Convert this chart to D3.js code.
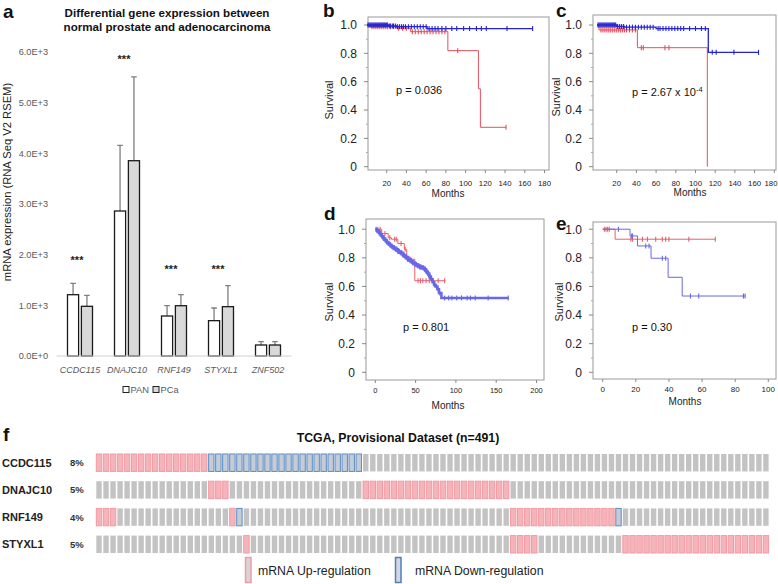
<!DOCTYPE html>
<html><head><meta charset="utf-8">
<script src="https://cdn.jsdelivr.net/npm/d3@7"></script>
<style>body{margin:0;background:#fff}svg{display:block;font-family:"Liberation Sans",Arial,sans-serif}</style>
</head><body><svg id="chart" width="778" height="584"></svg>
<script>
// ---------- Panel a data ----------
const genes = ["CCDC115","DNAJC10","RNF149","STYXL1","ZNF502"];
const groups = ["PAN","PCa"];
const panValues = [1209, 2860, 789, 697, 217];
const panErrors = [225, 1296, 203, 250, 65];
const pcaValues = [980, 3852, 992, 973, 217];
const pcaErrors = [217, 1652, 217, 414, 65];
const sigLevels = [1913, 5878, 1736, 1736, null];
const sigLabel = "***";
const aTickValues = [0, 1000, 2000, 3000, 4000, 5000, 6000];
const aTickLabels = ["0.0E+0","1.0E+3","2.0E+3","3.0E+3","4.0E+3","5.0E+3","6.0E+3"];

// ---------- KM data ----------
const survTicks = [0, 0.2, 0.4, 0.6, 0.8, 1.0];
const survTickLabels = ["0","0.2","0.4","0.6","0.8","1.0"];
const bMonthTicks = [20,40,60,80,100,120,140,160,180];
const bBlueSteps = [[0,1.0],[22,0.993],[30,0.988],[61,0.975]];
const bBlueEnd = 168;
const bBlueCensor = [1,2,3,4,5,6,7,8,9,10,11,12,13,14,15,16,17,18,19,20,21,23,24,26,27,29,31,33,35,37,39,42,45,48,51,54,57,60,63,66,69,72,76,80,86,91,98,104,111,116,121,142,168];
const bRedSteps = [[0,1.0],[3,0.988],[30,0.977],[44,0.953],[82,0.819],[113,0.55],[115,0.278]];
const bRedEnd = 141;
const bRedCensor = [5,7,9,11,13,15,17,19,21,24,27,32,36,40,46,49,52,55,58,61,64,67,70,73,76,79,92,141];

const cMonthTicks = [20,40,60,80,100,120,140,160,180];
const cBlueSteps = [[0,1.0],[20,0.99],[28,0.985],[60,0.975],[113,0.807]];
const cBlueEnd = 164;
const cBlueCensor = [1,2,3,4,5,6,7,8,9,10,11,12,13,14,15,16,17,18,19,21,23,25,27,30,33,36,39,42,45,48,51,54,57,62,64,67,70,73,76,79,82,85,88,94,100,106,110,117,121,139,164];
const cRedSteps = [[0,1.0],[2,0.965],[41,0.84],[112,0.0]];
const cRedEnd = 112;
const cRedCensor = [4,6,8,10,12,14,16,18,20,22,24,26,28,30,33,36,39,45,47,69,73];

const dMonthTicks = [0,50,100,150,200];
const dBlueSteps = [[0,1.0],[2,0.99],[4,0.98],[6,0.965],[8,0.95],[10,0.935],[12,0.925],[14,0.91],[16,0.9],[18,0.89],[20,0.88],[22,0.87],[25,0.86],[28,0.845],[31,0.835],[34,0.82],[37,0.805],[40,0.79],[43,0.78],[46,0.765],[49,0.755],[52,0.745],[55,0.735],[58,0.73],[61,0.72],[63,0.705],[65,0.69],[67,0.67],[69,0.65],[71,0.63],[73,0.61],[75,0.6],[77,0.58],[79,0.555],[82,0.52]];
const dBlueEnd = 165;
const dBlueCensor = [1,2,3,4,5,6,7,8,9,10,11,12,13,14,15,16,17,18,19,20,21,22,23,24,25,26,27,28,29,30,31,32,33,34,35,36,37,38,39,40,41,42,43,44,45,46,47,48,49,50,51,52,53,54,55,56,57,58,59,60,61,62,63,64,65,66,67,68,70,72,74,76,78,80,86,91,95,101,107,114,118,124,140,165];
const dRedSteps = [[0,1.0],[8,0.97],[16,0.94],[20,0.93],[28,0.9],[36,0.86],[39,0.81],[42,0.79],[49,0.64]];
const dRedEnd = 87;
const dRedCensor = [3,6,12,18,24,26,32,37,44,53,56,59,63,67,72,78,86];

const eMonthTicks = [0,20,40,60,80,100];
const eBlueSteps = [[0,1.0],[16.5,0.953],[21,0.883],[29.2,0.797],[39.5,0.664],[48,0.533]];
const eBlueEnd = 86;
const eBlueCensor = [9.5,17.5,18,26,28,36,38,53,58,85,86];
const eRedSteps = [[0,1.0],[7.5,0.93]];
const eRedEnd = 68;
const eRedCensor = [1,2,3,4,17,18,24,27,32,36,38,40,52,68];

// ---------- Oncoprint data ----------
const oncoGenes = ["CCDC115","DNAJC10","RNF149","STYXL1"];
const oncoPercents = ["8%","5%","4%","5%"];
const oncoColumns = 96;
const oncoAlterations = [
  [["up",0,15],["down",16,37]],
  [["up",16,18],["up",38,58]],
  [["up",0,2],["up",19,19],["down",20,20],["up",59,73],["down",74,74]],
  [["up",21,21],["up",59,62],["up",75,95]]
];

// ---------- Drawing ----------
const svg = d3.select("#chart");
const letter = (t,x,y)=>svg.append("text").attr("x",x).attr("y",y).attr("font-size",19).attr("font-weight","bold").attr("fill","#111").text(t);

// Panel a
(function(){
  const g = svg.append("g");
  const y = d3.scaleLinear().domain([0,6000]).range([356, 51.8]);
  const x = d3.scaleBand().domain(genes).range([56.5, 291.5]);
  const xs = d3.scaleBand().domain(groups).range([11, 36]).paddingInner(0.2);
  g.append("text").attr("x",167).attr("y",17).attr("text-anchor","middle").attr("font-size",11.6).attr("font-weight","bold").attr("fill","#111").text("Differential gene expression between");
  g.append("text").attr("x",167).attr("y",31).attr("text-anchor","middle").attr("font-size",11.6).attr("font-weight","bold").attr("fill","#111").text("normal prostate and adenocarcinoma");
  g.selectAll(".yt").data(aTickValues).join("text").attr("x",48).attr("y",d=>y(d)+3.3).attr("text-anchor","end").attr("font-size",9.2).attr("fill","#595959").text((d,i)=>aTickLabels[i]);
  g.append("text").attr("transform","translate(11,182) rotate(-90)").attr("text-anchor","middle").attr("font-size",11.2).attr("fill","#222").text("mRNA expression (RNA Seq V2 RSEM)");
  const rows = genes.map((gname,i)=>({gene:gname, vals:[{grp:"PAN",v:panValues[i],e:panErrors[i]},{grp:"PCa",v:pcaValues[i],e:pcaErrors[i]}]}));
  const gg = g.selectAll(".grp").data(rows).join("g").attr("transform",d=>`translate(${x(d.gene)},0)`);
  gg.selectAll(".err").data(d=>d.vals).join("path").attr("fill","none").attr("stroke","#7f7f7f").attr("stroke-width",1.3)
    .attr("d",d=>{const cx=xs(d.grp)+xs.bandwidth()/2; return `M${cx},${y(d.v)}V${y(d.v+d.e)}M${cx-2.8},${y(d.v+d.e)}H${cx+2.8}`;});
  gg.selectAll(".bar").data(d=>d.vals).join("rect").attr("x",d=>xs(d.grp)).attr("width",xs.bandwidth())
    .attr("y",d=>y(d.v)).attr("height",d=>y(0)-y(d.v)).attr("fill",d=>d.grp==="PAN"?"#ffffff":"#d9d9d9").attr("stroke","#1a1a1a").attr("stroke-width",1.3);
  g.append("line").attr("x1",56.5).attr("x2",291.5).attr("y1",y(0)).attr("y2",y(0)).attr("stroke","#d0d0d0").attr("stroke-width",1);
  g.selectAll(".sig").data(genes.map((gname,i)=>({gene:gname,lvl:sigLevels[i]})).filter(d=>d.lvl!=null)).join("text")
    .attr("x",d=>x(d.gene)+x.bandwidth()/2-3).attr("y",d=>y(d.lvl)+5).attr("text-anchor","middle").attr("font-size",11).attr("font-weight","bold").attr("fill","#222").text(sigLabel);
  g.selectAll(".cat").data(genes).join("text").attr("x",d=>x(d)+x.bandwidth()/2).attr("y",372.5).attr("text-anchor","middle")
    .attr("font-size",9).attr("font-style","italic").attr("fill","#595959").text(d=>d);
  const lg = [{k:"PAN",x:123,fill:"#fff"},{k:"PCa",x:153,fill:"#d9d9d9"}];
  g.selectAll(".lgr").data(lg).join("rect").attr("x",d=>d.x).attr("y",386.5).attr("width",6).attr("height",6).attr("fill",d=>d.fill).attr("stroke","#222").attr("stroke-width",1);
  g.selectAll(".lgt").data(lg).join("text").attr("x",d=>d.x+7.5).attr("y",393).attr("font-size",9.3).attr("fill","#595959").text(d=>d.k);
  letter("a",3,17.5);
})();

// KM panels
function km(cfg){
  const g = svg.append("g");
  const f = cfg.frame;
  const maxT = cfg.ticks[cfg.ticks.length-1];
  const x = d3.scaleLinear().domain([0,maxT]).range([cfg.x0, cfg.x0 + maxT*cfg.ppm]);
  const y = d3.scaleLinear().domain([0,1]).range(cfg.yr);
  g.append("rect").attr("x",f[0]).attr("y",f[1]).attr("width",f[2]-f[0]).attr("height",f[3]-f[1]).attr("fill","none").attr("stroke","#9a9a9a").attr("stroke-width",1);
  const minor = [0.1,0.3,0.5,0.7,0.9];
  g.selectAll(".ytk").data(survTicks).join("line").attr("x1",f[0]-4).attr("x2",f[0]).attr("y1",d=>y(d)).attr("y2",d=>y(d)).attr("stroke","#888");
  g.selectAll(".ytm").data(minor).join("line").attr("x1",f[0]-2).attr("x2",f[0]).attr("y1",d=>y(d)).attr("y2",d=>y(d)).attr("stroke","#aaa");
  g.selectAll(".ytl").data(survTicks).join("text").attr("x",f[0]-11).attr("y",d=>y(d)+4.3).attr("text-anchor","end").attr("font-size",12).attr("fill","#222").text((d,i)=>survTickLabels[i]);
  g.selectAll(".xtk").data(cfg.ticks).join("line").attr("x1",d=>x(d)).attr("x2",d=>x(d)).attr("y1",f[3]).attr("y2",f[3]+3).attr("stroke","#888");
  g.selectAll(".xtl").data(cfg.ticks).join("text")
    .attr("x",d=>Math.min(x(d), 771)).attr("y",cfg.xlY).attr("text-anchor","middle").attr("font-size",cfg.xfs).attr("fill","#222").text(d=>d);
  g.append("text").attr("x",cfg.monthsX).attr("y",cfg.monthsY).attr("text-anchor","middle").attr("font-size",10).attr("fill","#222").text("Months");
  g.append("text").attr("transform",`translate(${cfg.survX},${cfg.survY}) rotate(-90)`).attr("text-anchor","middle").attr("font-size",11).attr("fill","#222").text("Survival");
  const pt = g.append("text").attr("x",cfg.pX).attr("y",cfg.pY).attr("font-size",11).attr("fill","#111");
  pt.append("tspan").text(cfg.pText);
  if (cfg.pSup){ pt.append("tspan").attr("dy",-4).attr("font-size",7.5).text(cfg.pSup); }
  const line = d3.line().x(d=>x(d[0])).y(d=>y(d[1])).curve(d3.curveStepAfter);
  cfg.series.forEach(s=>{
    const pts = s.steps.concat([[s.end, s.steps[s.steps.length-1][1]]]);
    g.append("path").attr("d",line(pts)).attr("fill","none").attr("stroke",s.color).attr("stroke-width",s.w||1);
    const times = s.steps.map(d=>d[0]);
    const bis = d3.bisector(d=>d).right;
    const S = t=>s.steps[Math.max(0,bis(times,t)-1)][1];
    g.selectAll(null).data(s.censor).join("line").attr("x1",d=>x(d)).attr("x2",d=>x(d)).attr("y1",d=>y(S(d))-2.5).attr("y2",d=>y(S(d))+2.5).attr("stroke",s.color).attr("stroke-width",1.1);
  });
}
const RED = "#e4505d", BLUE = "#2323cf", RED2 = "#e8606b", BLUE2 = "#6868e6";
km({frame:[368,17,549,170], x0:367, ppm:0.986, yr:[166.7,25], ticks:bMonthTicks, xlY:185.5, xfs:7.8, monthsX:448, monthsY:196.5, survX:333, survY:100, pX:396, pY:94, pText:"p = 0.036",
  series:[{steps:bRedSteps,end:bRedEnd,censor:bRedCensor,color:RED},{steps:bBlueSteps,end:bBlueEnd,censor:bBlueCensor,color:BLUE,w:1.3}]});
km({frame:[593,15,776,170], x0:597, ppm:0.985, yr:[166.7,25], ticks:cMonthTicks, xlY:185.5, xfs:7.8, monthsX:690, monthsY:196, survX:560, survY:97, pX:632, pY:95.5, pText:"p = 2.67 x 10", pSup:"-4",
  series:[{steps:cRedSteps,end:cRedEnd,censor:cRedCensor,color:RED},{steps:cBlueSteps,end:cBlueEnd,censor:cBlueCensor,color:BLUE,w:1.3}]});
km({frame:[366,219,544,380], x0:375.3, ppm:0.806, yr:[372.3,229.2], ticks:dMonthTicks, xlY:392.5, xfs:7.5, monthsX:448, monthsY:408.5, survX:333, survY:302, pX:403, pY:330.5, pText:"p = 0.801",
  series:[{steps:dRedSteps,end:dRedEnd,censor:dRedCensor,color:RED2},{steps:dBlueSteps,end:dBlueEnd,censor:dBlueCensor,color:BLUE2,w:2.5}]});
km({frame:[593,222,776,379], x0:602.7, ppm:1.656, yr:[372.3,229.2], ticks:eMonthTicks, xlY:392, xfs:8, monthsX:685, monthsY:405, survX:563, survY:302, pX:632, pY:330.5, pText:"p = 0.30",
  series:[{steps:eRedSteps,end:eRedEnd,censor:eRedCensor,color:RED2},{steps:eBlueSteps,end:eBlueEnd,censor:eBlueCensor,color:BLUE2}]});
letter("b",323,16.5); letter("c",556,16.5); letter("d",324,220); letter("e",556,230);

// Panel f oncoprint
(function(){
  const g = svg.append("g");
  letter("f",3,441);
  g.append("text").attr("x",398).attr("y",441.5).attr("text-anchor","middle").attr("font-size",12.3).attr("font-weight","bold").attr("fill","#111").text("TCGA, Provisional Dataset (n=491)");
  const x = d3.scaleBand().domain(d3.range(oncoColumns)).range([95.5, 95.5+oncoColumns*7.02]).paddingInner(0.23).paddingOuter(0.115);
  const y = d3.scaleBand().domain(oncoGenes).range([454, 553]).paddingInner(0.36);
  oncoGenes.forEach((gn,ri)=>{
    const types = new Array(oncoColumns).fill("none");
    oncoAlterations[ri].forEach(([t,a,b])=>{ for(let c=a;c<=b;c++) types[c]=t; });
    g.selectAll(null).data(types.map((t,c)=>({t,c}))).join("rect")
      .attr("x",d=>x(d.c)).attr("y",y(gn)).attr("width",x.bandwidth()).attr("height",y.bandwidth())
      .attr("fill",d=>d.t==="up"?"#f4b4ba":d.t==="down"?"#c6ccd6":"#c3c3c3")
      .attr("stroke",d=>d.t==="up"?"#f29aa3":d.t==="down"?"#5b8cc4":"none").attr("stroke-width",1);
    g.append("text").attr("x",2).attr("y",y(gn)+y.bandwidth()/2+4).attr("font-size",11).attr("font-weight","bold").attr("fill","#222").text(gn);
    g.append("text").attr("x",70).attr("y",y(gn)+y.bandwidth()/2+3.5).attr("font-size",9.5).attr("font-weight","bold").attr("fill","#333").text(oncoPercents[ri]);
  });
  const leg = [{x:245.5,label:"mRNA Up-regulation",fill:"#d6d6d6",stroke:"#f29aa3",tx:258},{x:395.5,label:"mRNA Down-regulation",fill:"#d3d8e0",stroke:"#4f80b8",tx:415}];
  g.selectAll(".lr").data(leg).join("rect").attr("x",d=>d.x).attr("y",557.5).attr("width",5.5).attr("height",25).attr("fill",d=>d.fill).attr("stroke",d=>d.stroke).attr("stroke-width",1.5);
  g.selectAll(".lt").data(leg).join("text").attr("x",d=>d.tx).attr("y",574.5).attr("font-size",12.3).attr("fill","#222").text(d=>d.label);
})();
</script></body></html>
